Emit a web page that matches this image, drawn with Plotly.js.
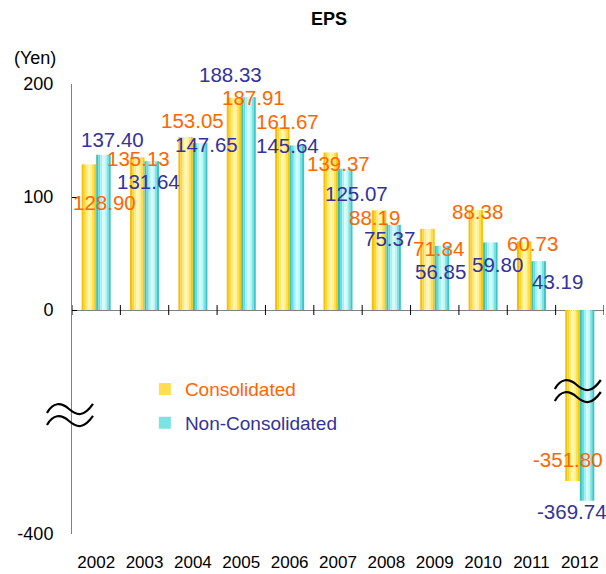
<!DOCTYPE html>
<html>
<head>
<meta charset="utf-8">
<script src="https://cdn.plot.ly/plotly-3.0.1.min.js"></script>
<style>html,body{margin:0;padding:0;background:#fff;}#chart{width:606px;height:574px;}</style>
</head>
<body>
<div id="chart"></div>
<script>
// ---- data ----
const years = ['2002','2003','2004','2005','2006','2007','2008','2009','2010','2011','2012'];
const consolidated = [128.90, 135.13, 153.05, 187.91, 161.67, 139.37, 88.19, 71.84, 88.38, 60.73, -351.80];
const nonConsolidated = [137.40, 131.64, 147.65, 188.33, 145.64, 125.07, 75.37, 56.85, 59.80, 43.19, -369.74];
const consLabels = ['128.90','135.13','153.05','187.91','161.67','139.37','88.19','71.84','88.38','60.73','-351.80'];
const nonLabels = ['137.40','131.64','147.65','188.33','145.64','125.07','75.37','56.85','59.80','43.19','-369.74'];
const yTickUpper = [0, 100, 200];
const yTickUpperText = ['0', '100', '200'];
const yTickLower = [-400];
const yTickLowerText = ['-400'];

// ---- styles / label placement (pixel shifts) ----
const consShiftX = [8.8, -6.5, -0.9, 12.7, -2.6, 0, -11.4, 3.3, -5.1, 0.6, -11.8];
const consShiftY = [-37.7, -0.7, 16.1, -0.3, 6.3, -10.5, -6.7, -19.2, -0.9, -2.6, 21];
const nonShiftX = [16.8, 3.5, 13.1, -10.3, -2.6, 18, 3.6, 5.3, 14.9, 25.6, -7.8];
const nonShiftY = [15.7, -19.8, -1.8, 22.2, 0.4, -25.3, -13.2, -26.2, -21.6, -19.8, -10.3];
const consColors = ['#F5BE00','#FFD43A','#FFEA78','#FFF8A8','#FFF39A','#FFDE50','#F8C810'];
const nonColors = ['#34C4C4','#6ADADA','#A8F0F0','#D4FFFF','#BCF8F8','#7EE2E2','#3CC6C6'];
const ORANGE = '#FF6600', BLUE = '#333399';
const FONT = 'Liberation Sans, Arial, sans-serif';
const UPPER_RANGE = [-92, 200], LOWER_RANGE = [-400, -290.9];
const BREAK = 0.2667;

const traces = [];
function addStripes(values, colors, side, name, group, legendIdx) {
  const half = 0.3, n = colors.length, w = half / n;
  ['y', 'y2'].forEach(ax => {
    colors.forEach((c, k) => {
      traces.push({
        type: 'bar', x: years, y: values, yaxis: ax, xaxis: 'x',
        width: w, offset: (side < 0 ? -half : 0) + k * w,
        marker: {color: c, line: {width: 0}},
        name: name, legendgroup: group,
        showlegend: ax === 'y' && k === legendIdx,
        hoverinfo: 'skip'
      });
    });
  });
}
addStripes(consolidated, consColors, -1, '<span style="color:' + ORANGE + '">Consolidated</span>', 'a', 5);
addStripes(nonConsolidated, nonColors, 1, '<span style="color:' + BLUE + '">Non-Consolidated</span>', 'b', 5);

const annotations = [];
function addLabels(values, labels, sx, sy, color) {
  values.forEach((v, i) => {
    annotations.push({
      x: i, xref: 'x', y: v, yref: v < UPPER_RANGE[0] ? 'y2' : 'y',
      text: labels[i], showarrow: false, xshift: sx[i], yshift: sy[i],
      xanchor: 'center', yanchor: 'middle',
      font: {family: FONT, size: 20.5, color: color}
    });
  });
}
addLabels(consolidated, consLabels, consShiftX, consShiftY, ORANGE);
addLabels(nonConsolidated, nonLabels, nonShiftX, nonShiftY, BLUE);
annotations.push({
  text: '(Yen)', xref: 'paper', yref: 'paper', x: -0.1128, y: 1.058,
  xanchor: 'left', yanchor: 'middle', showarrow: false,
  font: {family: FONT, size: 18, color: '#000'}
});

const shapes = [];
// category boundary ticks on the zero line
for (let b = 0; b <= years.length; b++) {
  shapes.push({type: 'line', xref: 'x', x0: b - 0.5, x1: b - 0.5,
    yref: 'y', ysizemode: 'pixel', yanchor: 0, y0: -5, y1: 5,
    line: {color: '#000', width: 1}});
}
function wave(c) {
  return 'M -25,' + (c + 1) + ' C -19,' + (c + 12) + ' -11,' + (c + 12) + ' -3,' + (c + 5) +
         ' S 12,' + (c - 3) + ' 21,' + (c + 10);
}
function breakMark(xref, xanchor, yanchor) {
  [0, -12].forEach(c => shapes.push({
    type: 'path', xref: xref, xsizemode: 'pixel', xanchor: xanchor,
    yref: 'paper', ysizemode: 'pixel', yanchor: yanchor,
    path: wave(c), line: {color: '#000', width: 2.2}, layer: 'above'
  }));
}
breakMark('paper', 0, BREAK);
breakMark('x', 10, 0.32);

const layout = {
  width: 606, height: 574,
  margin: {l: 72, r: 2, t: 84, b: 40},
  paper_bgcolor: '#fff', plot_bgcolor: 'rgba(0,0,0,0)',
  barmode: 'overlay',
  font: {family: FONT, color: '#000'},
  title: {text: '<b>EPS</b>', font: {family: FONT, size: 18, color: '#000'},
    xref: 'paper', x: 0.483, xanchor: 'center', yref: 'container', y: 0.968, yanchor: 'middle'},
  xaxis: {type: 'category', anchor: 'y2', range: [-0.5, 10.5], showline: false,
    showgrid: false, zeroline: false, ticks: '', ticklabelstandoff: 16,
    tickfont: {family: FONT, size: 17, color: '#000'}},
  yaxis: {domain: [BREAK, 1], range: UPPER_RANGE, tickmode: 'array',
    tickvals: yTickUpper, ticktext: yTickUpperText,
    showgrid: false, zeroline: true, zerolinecolor: '#808080', zerolinewidth: 1,
    showline: true, linecolor: '#808080', linewidth: 1,
    ticks: 'inside', ticklen: 5, tickcolor: '#000', ticklabelstandoff: 14,
    tickfont: {family: FONT, size: 18, color: '#000'}},
  yaxis2: {domain: [0, BREAK], range: LOWER_RANGE, tickmode: 'array',
    tickvals: yTickLower, ticktext: yTickLowerText,
    showgrid: false, zeroline: false,
    showline: true, linecolor: '#808080', linewidth: 1,
    ticks: 'inside', ticklen: 5, tickcolor: '#000', ticklabelstandoff: 14,
    tickfont: {family: FONT, size: 18, color: '#000'}},
  legend: {x: 0.137, y: 0.364, xanchor: 'left', yanchor: 'top',
    bgcolor: 'rgba(0,0,0,0)', traceorder: 'grouped', tracegroupgap: 6,
    font: {family: FONT, size: 19}},
  annotations: annotations,
  shapes: shapes
};

Plotly.newPlot('chart', traces, layout, {displayModeBar: false, staticPlot: true});
</script>
</body>
</html>
